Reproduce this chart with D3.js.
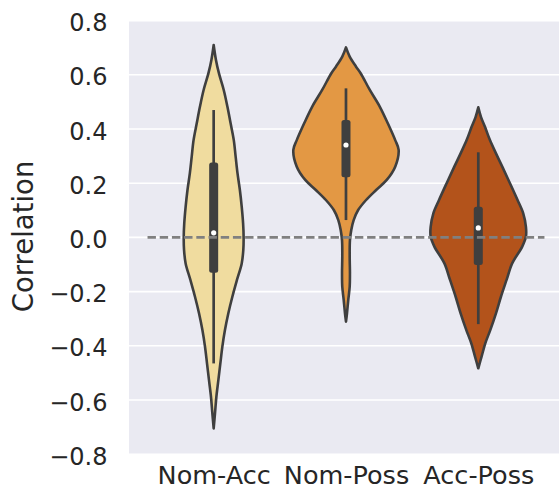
<!DOCTYPE html>
<html>
<head>
<meta charset="utf-8">
<script src="https://cdn.jsdelivr.net/npm/d3@7"></script>
<style>
  body { margin: 0; background: #fff; }
  svg { display: block; font-family: "DejaVu Sans", sans-serif; }
</style>
</head>
<body>
<svg id="chart" width="559" height="495"></svg>
<script>
// ---- data ----
const categories = ["Nom-Acc", "Nom-Poss", "Acc-Poss"];
const colors = ["#f0dc9f", "#e39844", "#b3531b"];
const yTicks = [-0.8, -0.6, -0.4, -0.2, 0.0, 0.2, 0.4, 0.6, 0.8];

// density profiles: [value, relative density]
const densityNomAcc = [
  [0.710, 0], [0.655, 0.043], [0.605, 0.10], [0.544, 0.19], [0.482, 0.26],
  [0.421, 0.32], [0.359, 0.38], [0.298, 0.415], [0.237, 0.45], [0.175, 0.495],
  [0.113, 0.53], [0.052, 0.556], [0.0, 0.566], [-0.046, 0.56], [-0.096, 0.53],
  [-0.157, 0.44], [-0.219, 0.353], [-0.28, 0.277], [-0.342, 0.213], [-0.403, 0.164],
  [-0.465, 0.126], [-0.526, 0.089], [-0.588, 0.051], [-0.649, 0.025], [-0.705, 0]
];
const densityNomPoss = [
  [0.701, 0], [0.667, 0.07], [0.63, 0.19], [0.605, 0.28], [0.544, 0.45],
  [0.482, 0.64], [0.421, 0.79], [0.359, 0.93], [0.323, 0.995], [0.261, 0.93],
  [0.212, 0.77], [0.175, 0.57], [0.138, 0.38], [0.101, 0.23], [0.064, 0.145],
  [0.027, 0.10], [-0.01, 0.075], [-0.071, 0.07], [-0.132, 0.075], [-0.182, 0.07],
  [-0.231, 0.043], [-0.28, 0.019], [-0.311, 0]
];
const densityAccPoss = [
  [0.480, 0], [0.445, 0.05], [0.408, 0.126], [0.359, 0.22], [0.31, 0.334],
  [0.261, 0.453], [0.2, 0.598], [0.138, 0.742], [0.089, 0.849], [0.039, 0.90],
  [0.003, 0.90], [-0.034, 0.83], [-0.096, 0.64], [-0.157, 0.534], [-0.219, 0.428],
  [-0.28, 0.334], [-0.342, 0.226], [-0.391, 0.132], [-0.44, 0.062], [-0.483, 0]
];
const densities = [densityNomAcc, densityNomPoss, densityAccPoss];

// box stats: [whiskerLow, q1, median, q3, whiskerHigh]
const boxNomAcc = [-0.465, -0.13, 0.017, 0.276, 0.470];
const boxNomPoss = [0.064, 0.222, 0.341, 0.433, 0.550];
const boxAccPoss = [-0.32, -0.102, 0.035, 0.113, 0.314];
const boxes = [boxNomAcc, boxNomPoss, boxAccPoss];

const refLineValue = 0.0;

// ---- layout ----
const svg = d3.select("#chart");
const plotLeft = 129, plotRight = 559, plotTop = 20.6, plotBottom = 454.2;

const x = d3.scaleLinear().domain([-0.64, 2.61]).range([plotLeft, plotRight]);
const y = d3.scaleLinear().domain([-0.8, 0.8]).range([plotBottom, plotTop]);
const step = x(1) - x(0);
const w = d3.scaleLinear().domain([0, 1]).range([0, 0.4 * step]);

const edge = "#3f3f3f";
const textColor = "#262626";

// background
svg.append("rect").attr("x", plotLeft).attr("y", plotTop)
  .attr("width", plotRight - plotLeft).attr("height", plotBottom - plotTop)
  .attr("fill", "#eaeaf2");

// gridlines
svg.append("g").selectAll("line").data(yTicks).join("line")
  .attr("x1", plotLeft).attr("x2", plotRight)
  .attr("y1", d => y(d)).attr("y2", d => y(d))
  .attr("stroke", "#fff").attr("stroke-width", 1.6);

// violins
categories.forEach((c, i) => {
  const cx = x(i);
  const area = d3.area()
    .y(d => y(d[0]))
    .x0(d => cx - w(d[1]))
    .x1(d => cx + w(d[1]))
    .curve(d3.curveCatmullRom.alpha(0.5));
  svg.append("path")
    .attr("d", area(densities[i]))
    .attr("fill", colors[i])
    .attr("stroke", edge)
    .attr("stroke-width", 2.6)
    .attr("stroke-linejoin", "round");

  const b = boxes[i];
  // whisker
  svg.append("line")
    .attr("x1", cx).attr("x2", cx)
    .attr("y1", y(b[0])).attr("y2", y(b[4]))
    .attr("stroke", edge).attr("stroke-width", 2.7);
  // box
  svg.append("rect")
    .attr("x", cx - 4.5).attr("width", 9)
    .attr("y", y(b[3])).attr("height", y(b[1]) - y(b[3]))
    .attr("rx", 2.5)
    .attr("fill", edge);
  // median
  svg.append("circle")
    .attr("cx", cx).attr("cy", y(b[2])).attr("r", 2.6)
    .attr("fill", "#fff");
});

// reference dashed line
svg.append("line")
  .attr("x1", x(-0.5)).attr("x2", x(2.5))
  .attr("y1", y(refLineValue)).attr("y2", y(refLineValue))
  .attr("stroke", "#808080").attr("stroke-width", 2.6)
  .attr("stroke-dasharray", "8.4,3.8");

// y axis
const yAxis = d3.axisLeft(y).tickValues(yTicks).tickFormat(d3.format(".1f"))
  .tickSize(0).tickPadding(21.5);
const gy = svg.append("g").attr("transform", `translate(${plotLeft},0)`).call(yAxis);
gy.select(".domain").remove();
gy.selectAll("text").attr("font-size", 24).attr("fill", textColor)
  .attr("font-family", "DejaVu Sans").attr("dy", "0.42em");

// x axis
const xAxis = d3.axisBottom(x).tickValues(d3.range(categories.length))
  .tickFormat(i => categories[i]).tickSize(0).tickPadding(11.5);
const gx = svg.append("g").attr("transform", `translate(0,${plotBottom})`).call(xAxis);
gx.select(".domain").remove();
gx.selectAll("text").attr("font-size", 25.5).attr("fill", textColor)
  .attr("font-family", "DejaVu Sans");

// y label
svg.append("text")
  .attr("transform", `translate(32.5,${(160 + 313) / 2}) rotate(-90)`)
  .attr("text-anchor", "middle")
  .attr("font-size", 27.5)
  .attr("fill", textColor)
  .text("Correlation");
</script>
</body>
</html>
